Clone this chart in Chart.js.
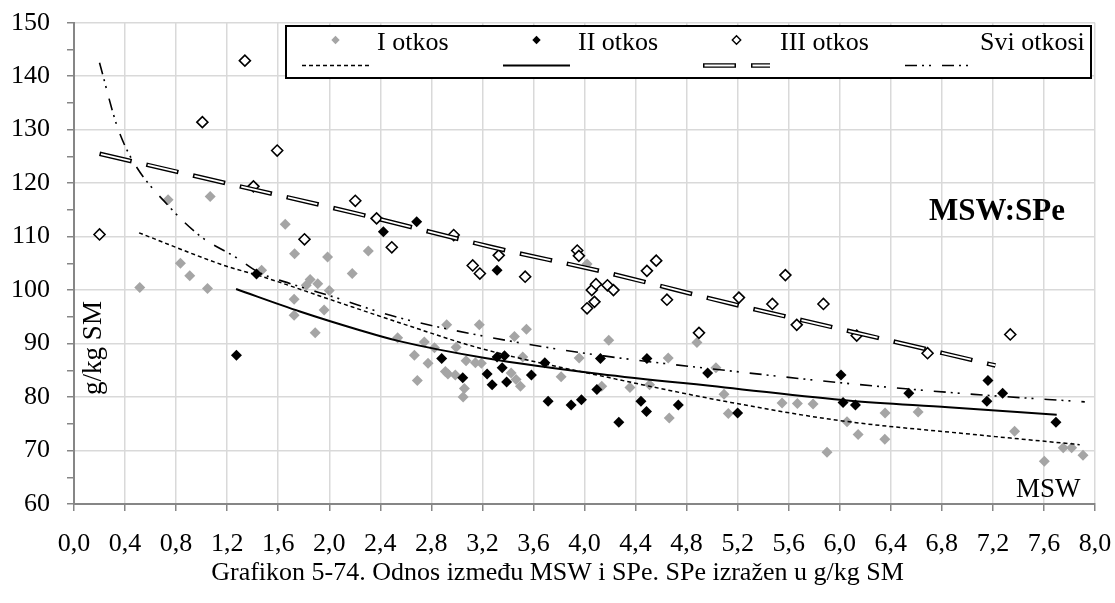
<!DOCTYPE html>
<html>
<head>
<meta charset="utf-8">
<script src="https://cdn.jsdelivr.net/npm/chart.js@4.4.0/dist/chart.umd.min.js"></script>
<style>
  html, body { margin: 0; padding: 0; background: #fff; }
  #wrap { width: 1115px; height: 603px; }
</style>
</head>
<body>
<div id="wrap"><canvas id="msw_chart" width="1115" height="603"></canvas></div>
<script>
// I otkos (grey)
var otkos1X = [0.515, 0.737, 0.834, 0.907, 1.046, 1.067, 1.47, 1.655, 1.728, 1.987, 2.18, 1.85, 1.91, 1.82, 2.0, 1.725, 1.96, 1.725, 1.89, 2.306, 2.536,
  2.667, 2.69, 2.745, 2.774, 2.824, 2.92, 2.91, 2.93, 2.994, 2.988, 3.059, 3.049, 3.072, 3.145, 3.192, 3.176, 3.451, 3.545, 3.516, 3.425, 3.464, 3.498,
  3.817, 3.958, 4.02, 4.19, 4.135, 4.356, 4.51, 4.656, 4.664, 4.881, 5.03, 5.093, 5.127, 5.548, 5.668, 5.791, 5.9, 6.057,
  6.144, 6.355, 6.353, 6.614, 7.37, 7.603, 7.751, 7.817, 7.906];
var otkos1Y = [100.5, 116.9, 105.0, 102.7, 100.3, 117.5, 103.7, 112.3, 106.8, 106.2, 103.1, 102.0, 101.2, 100.9, 99.9, 98.3, 96.3, 95.3, 92.0, 107.3, 91.1,
  87.8, 83.1, 90.3, 86.3, 89.2, 93.5, 84.8, 84.3, 89.3, 84.1, 81.6, 80.0, 86.8, 86.4, 86.3, 93.5, 91.3, 92.7, 87.5, 84.5, 83.3, 82.0,
  83.8, 87.3, 104.9, 90.6, 82.0, 81.8, 82.3, 87.3, 76.1, 90.2, 85.5, 80.5, 76.9, 78.9, 78.8, 78.7, 69.7, 75.4,
  73.0, 77.0, 72.1, 77.2, 73.6, 68.0, 70.5, 70.5, 69.1];

// II otkos (black)
var otkos2X = [1.273, 1.43, 2.424, 2.685, 3.315, 2.881, 3.046, 3.237, 3.276, 3.315, 3.373, 3.355, 3.39, 3.584, 3.689, 3.715, 3.895, 3.976, 4.097, 4.125,
  4.269, 4.489, 4.442, 4.486, 4.735, 4.965, 5.2, 6.01, 6.026, 6.123, 6.541, 7.161, 7.153, 7.276, 7.694];
var otkos2Y = [87.8, 103.0, 110.9, 112.8, 103.7, 87.2, 83.6, 84.3, 82.3, 87.5, 87.7, 85.5, 82.8, 84.1, 86.4, 79.2, 78.5, 79.5, 81.4, 87.2,
  75.3, 87.2, 79.2, 77.3, 78.5, 84.5, 77.0, 84.1, 79.0, 78.5, 80.7, 83.1, 79.2, 80.7, 75.3];

// III otkos (open)
var otkos3X = [0.2, 1.006, 1.339, 1.406, 1.592, 1.806, 2.204, 2.371, 2.49, 2.975, 3.124, 3.18, 3.328, 3.535, 3.943, 3.956, 4.02, 4.057, 4.078, 4.09,
  4.18, 4.227, 4.489, 4.562, 4.646, 4.897, 5.21, 5.472, 5.574, 5.663, 5.872, 6.133, 6.688, 7.336];
var otkos3Y = [110.4, 131.4, 142.9, 119.4, 126.1, 109.5, 116.7, 113.4, 108.0, 110.3, 104.6, 103.1, 106.5, 102.5, 107.4, 106.4, 96.6, 100.0, 97.8, 101.1,
  100.9, 100.0, 103.6, 105.5, 98.2, 92.0, 98.6, 97.4, 102.8, 93.5, 97.4, 91.5, 88.2, 91.7];

// trend lines
var trend1X = [0.51, 1.19, 1.45, 2.0, 2.55, 3.2, 4.2, 5.1, 6.0, 7.05, 7.88];
var trend1Y = [110.7, 104.5, 102.7, 98.3, 93.9, 89.0, 83.6, 79.2, 75.6, 73.0, 71.1];
var trend2X = [1.27, 1.77, 2.24, 2.54, 3.22, 4.12, 5.1, 6.08, 6.85, 7.7];
var trend2Y = [100.2, 96.0, 92.5, 90.5, 87.3, 84.3, 81.8, 79.3, 78.1, 76.7];
var trend3X = [0.2, 1.19, 2.235, 3.28, 4.15, 5.16, 6.08, 7.22];
var trend3Y = [125.5, 120.0, 114.2, 108.0, 103.4, 97.4, 92.3, 85.9];
var trendAllX = [0.2, 0.34, 0.46, 0.75, 1.0, 1.27, 1.45, 1.71, 2.05, 2.52, 3.41, 4.15, 5.1, 6.08, 7.05, 7.92];
var trendAllY = [142.5, 130.5, 124.2, 115.5, 109.9, 106.1, 103.3, 101.1, 98.6, 95.0, 90.5, 87.7, 85.0, 82.5, 80.5, 79.1];

var seriesNames = ['I otkos', 'II otkos', 'III otkos', 'Svi otkosi'];

var serif = '"Liberation Serif", "Times New Roman", serif';
var grey = '#a5a5a5';
var dashI = [4, 3];
var dashIII = [33, 15];
var dashAll = [12, 5, 2, 5, 2, 11];

function pts(xs, ys) {
  return xs.map(function (x, i) { return { x: x, y: ys[i] }; });
}

function diamond(c, x, y, r, fill, stroke) {
  c.beginPath();
  c.moveTo(x - r, y); c.lineTo(x, y - r); c.lineTo(x + r, y); c.lineTo(x, y + r);
  c.closePath();
  c.fillStyle = fill; c.fill();
  if (stroke) { c.lineWidth = 1.4; c.strokeStyle = stroke; c.stroke(); }
}

var extras = {
  id: 'extras',
  afterDraw: function (chart) {
    var c = chart.ctx;
    c.save();
    // legend
    c.fillStyle = '#fff';
    c.fillRect(286, 26, 805, 52);
    c.lineWidth = 2; c.strokeStyle = '#000';
    c.strokeRect(286, 26, 805, 52);
    var colX = [302, 503, 703, 905];
    var labX = [377, 578, 780, 980];
    var len = 67, ly = 65.5;
    diamond(c, colX[0] + len / 2, 40, 4.2, grey);
    diamond(c, colX[1] + len / 2, 40, 4.2, '#000');
    diamond(c, colX[2] + len / 2, 40, 4.2, '#fff', '#000');
    c.font = '26px ' + serif; c.fillStyle = '#000';
    c.textAlign = 'left'; c.textBaseline = 'alphabetic';
    for (var i = 0; i < 4; i++) c.fillText(seriesNames[i], labX[i], 49.5);

    function seg(x0, dash, w, col, off) {
      c.beginPath(); c.setLineDash(dash); c.lineDashOffset = off || 0;
      c.lineWidth = w; c.strokeStyle = col; c.lineCap = 'butt';
      c.moveTo(x0, ly); c.lineTo(x0 + len, ly); c.stroke();
    }
    seg(colX[0], dashI, 1.5, '#000');
    seg(colX[1], [], 2, '#000');
    seg(colX[2], dashIII, 4.5, '#000');
    seg(colX[2], [30, 18], 1.8, '#fff', -1.5);
    seg(colX[3], dashAll, 1.6, '#000');
    c.setLineDash([]);

    // labels in the plot
    c.fillStyle = '#000';
    c.font = 'bold 31px ' + serif;
    c.fillText('MSW:SPe', 929, 220);
    c.font = '27px ' + serif;
    c.fillText('MSW', 1016, 496.5);

    c.save();
    c.translate(101, 348);
    c.rotate(-Math.PI / 2);
    c.textAlign = 'center';
    c.font = '27px ' + serif;
    c.fillText('g/kg SM', 0, 0);
    c.restore();

    c.textAlign = 'center';
    c.font = '26px ' + serif;
    c.fillText('Grafikon 5-74. Odnos između MSW i SPe. SPe izražen u g/kg SM', 557.5, 580);
    c.restore();
  }
};

function noPad(s) {
  s.paddingTop = 0; s.paddingBottom = 0; s.paddingLeft = 0; s.paddingRight = 0;
}

var ctx = document.getElementById('msw_chart').getContext('2d');
var mswChart = new Chart(ctx, {
  type: 'scatter',
  plugins: [extras],
  data: {
    datasets: [
      { label: 'trend Svi', data: pts(trendAllX, trendAllY), showLine: true, pointRadius: 0, borderColor: '#000', borderWidth: 1.6, borderDash: dashAll, cubicInterpolationMode: 'monotone', order: 0 },
      { label: 'trend III inner', data: pts(trend3X, trend3Y), showLine: true, pointRadius: 0, borderColor: '#fff', borderWidth: 1.8, borderDash: [30, 18], borderDashOffset: -1.5, cubicInterpolationMode: 'monotone', order: 0 },
      { label: 'trend III', data: pts(trend3X, trend3Y), showLine: true, pointRadius: 0, borderColor: '#000', borderWidth: 4.5, borderDash: dashIII, cubicInterpolationMode: 'monotone', order: 1 },
      { label: 'trend II', data: pts(trend2X, trend2Y), showLine: true, pointRadius: 0, borderColor: '#000', borderWidth: 2, cubicInterpolationMode: 'monotone', order: 1 },
      { label: 'trend I', data: pts(trend1X, trend1Y), showLine: true, pointRadius: 0, borderColor: '#000', borderWidth: 1.5, borderDash: dashI, cubicInterpolationMode: 'monotone', order: 1 },
      { label: seriesNames[2], data: pts(otkos3X, otkos3Y), pointStyle: 'rectRot', pointRadius: 5.5, backgroundColor: '#fff', borderColor: '#000', borderWidth: 1.6, order: 3 },
      { label: seriesNames[1], data: pts(otkos2X, otkos2Y), pointStyle: 'rectRot', pointRadius: 5.5, backgroundColor: '#000', borderColor: '#000', borderWidth: 0, order: 4 },
      { label: seriesNames[0], data: pts(otkos1X, otkos1Y), pointStyle: 'rectRot', pointRadius: 5.5, backgroundColor: grey, borderColor: grey, borderWidth: 0, order: 5 }
    ]
  },
  options: {
    responsive: false,
    devicePixelRatio: 1,
    animation: false,
    events: [],
    layout: { padding: { top: 23, right: 20, left: 0, bottom: 0 } },
    plugins: { legend: { display: false }, tooltip: { enabled: false } },
    scales: {
      x: {
        type: 'linear', min: 0, max: 8,
        afterFit: function (s) { s.height = 99; noPad(s); },
        border: { color: '#868686', width: 2 },
        grid: { color: '#d9d9d9', lineWidth: 1.5, tickColor: '#868686', tickLength: 7, tickWidth: 1.5 },
        ticks: {
          stepSize: 0.4, padding: 18, color: '#000', maxRotation: 0, autoSkip: false,
          font: { family: serif, size: 26 },
          callback: function (v) { return v.toFixed(1).replace('.', ','); }
        }
      },
      y: {
        min: 60, max: 150,
        afterFit: function (s) { s.width = 74; noPad(s); },
        border: { color: '#868686', width: 2 },
        grid: {
          color: function (c) { return c.tick && c.tick.value % 10 === 0 ? '#d9d9d9' : 'rgba(0,0,0,0)'; },
          lineWidth: 1.5, tickColor: '#868686', tickLength: 7, tickWidth: 1.5
        },
        ticks: {
          stepSize: 5, padding: 17, color: '#000', autoSkip: false,
          font: { family: serif, size: 26 },
          callback: function (v) { return v % 10 === 0 ? String(v) : ''; }
        }
      }
    }
  }
});

// pin the plot area to where it sits in the original
function pinArea(chart) {
  var ca = chart.chartArea, p = chart.options.layout.padding;
  p.top += 22.7 - ca.top;
  p.right += ca.right - 1095;
  p.left += 74 - ca.left;
  p.bottom += ca.bottom - 504;
  chart.update();
}
pinArea(mswChart);
pinArea(mswChart);
</script>
</body>
</html>
